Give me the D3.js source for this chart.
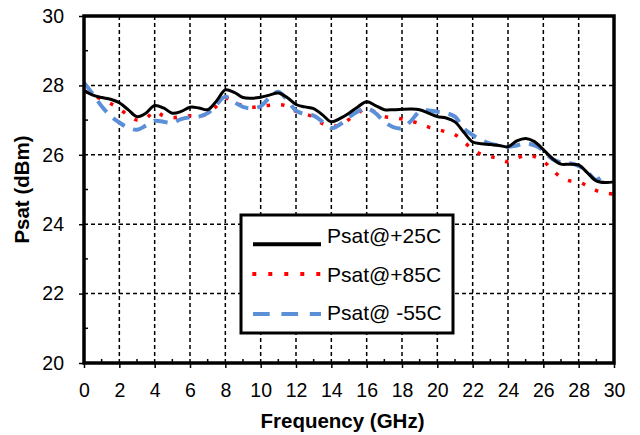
<!DOCTYPE html>
<html>
<head>
<meta charset="utf-8">
<script src="https://cdn.jsdelivr.net/npm/d3@7"></script>
<style>
  body { margin: 0; background: #fff; }
  text { font-family: "Liberation Sans", Arial, sans-serif; }
</style>
</head>
<body>
<script>
// chart data
const freq = d3.range(0, 30.01, 0.5);
const psat25 = [27.85, 27.72, 27.65, 27.6, 27.5, 27.3, 27.1, 27.2, 27.42, 27.35,
  27.2, 27.25, 27.37, 27.35, 27.3, 27.55, 27.87, 27.8, 27.65, 27.63,
  27.66, 27.72, 27.78, 27.65, 27.45, 27.38, 27.33, 27.15, 26.95, 27.05,
  27.2, 27.38, 27.53, 27.42, 27.3, 27.3, 27.31, 27.32, 27.3, 27.2,
  27.1, 27.06, 26.95, 26.65, 26.37, 26.32, 26.3, 26.27, 26.23, 26.4,
  26.47, 26.38, 26.15, 25.9, 25.73, 25.73, 25.7, 25.48, 25.25, 25.2, 25.22];
const psat85 = [27.85, 27.72, 27.6, 27.48, 27.33, 27.13, 27.0, 27.05, 27.25, 27.12,
  27.07, 27.1, 27.12, 27.1, 27.2, 27.4, 27.63, 27.5, 27.42, 27.37,
  27.4, 27.43, 27.45, 27.4, 27.25, 27.18, 27.08, 26.9, 26.83, 26.86,
  27.02, 27.2, 27.35, 27.22, 27.1, 27.07, 27.03, 26.97, 26.9, 26.8,
  26.73, 26.66, 26.58, 26.38, 26.15, 26.01, 25.95, 25.88, 25.8, 25.9,
  25.99, 25.95, 25.82, 25.57, 25.35, 25.25, 25.22, 25.1, 24.97, 24.9, 24.87];
const psatM55 = [28.08, 27.75, 27.4, 27.12, 26.93, 26.78, 26.72, 26.84, 26.98, 26.95,
  26.92, 27.03, 27.08, 27.1, 27.2, 27.45, 27.67, 27.52, 27.38, 27.34,
  27.4, 27.65, 27.82, 27.58, 27.27, 27.17, 27.13, 26.95, 26.77, 26.88,
  27.08, 27.25, 27.34, 27.2, 26.95, 26.8, 26.77, 26.97, 27.25, 27.28,
  27.24, 27.2, 27.1, 26.76, 26.57, 26.42, 26.32, 26.27, 26.23, 26.27,
  26.33, 26.27, 26.12, 25.88, 25.78, 25.76, 25.68, 25.5, 25.28, 25.45, null];
const xTicks = d3.range(0, 31, 2);
const yTicks = d3.range(20, 31, 2);
const seriesNames = ['Psat@+25C', 'Psat@+85C', 'Psat@ -55C'];

const w = 640;
const h = 435;
const m = { left: 84, right: 26, top: 16, bottom: 72 };

const svg = d3.select('body').append('svg').attr('width', w).attr('height', h);

const x = d3.scaleLinear().domain([0, 30]).range([m.left, w - m.right]);
const y = d3.scaleLinear().domain([20, 30]).range([h - m.bottom, m.top]);

// dashed grid
svg.append('g')
  .selectAll('line')
  .data(xTicks.filter((d) => d > 0 && d < 30))
  .enter()
  .append('line')
  .attr('x1', (d) => x(d)).attr('x2', (d) => x(d))
  .attr('y1', y(20)).attr('y2', y(30))
  .attr('stroke', '#000').attr('stroke-width', 1.5).attr('stroke-dasharray', '4,3');

svg.append('g')
  .selectAll('line')
  .data(yTicks.filter((d) => d > 20 && d < 30))
  .enter()
  .append('line')
  .attr('x1', x(0)).attr('x2', x(30))
  .attr('y1', (d) => y(d)).attr('y2', (d) => y(d))
  .attr('stroke', '#000').attr('stroke-width', 1.5).attr('stroke-dasharray', '4,3');

// curves
const line = (vals) => d3.line()
  .defined((d, i) => vals[i] != null)
  .x((d) => x(d))
  .y((d, i) => y(vals[i]))
  .curve(d3.curveCatmullRom)(freq);

svg.append('path').attr('d', line(psat85))
  .attr('fill', 'none').attr('stroke', '#ff0000').attr('stroke-width', 3.5)
  .attr('stroke-dasharray', '3.5,11');
svg.append('path').attr('d', line(psatM55))
  .attr('fill', 'none').attr('stroke', '#5b8fd8').attr('stroke-width', 4)
  .attr('stroke-dasharray', '14,9');
svg.append('path').attr('d', line(psat25))
  .attr('fill', 'none').attr('stroke', '#000').attr('stroke-width', 3);

// axes
const xAxis = svg.append('g')
  .attr('transform', `translate(0,${y(20)})`)
  .call(d3.axisBottom(x).tickValues(xTicks).tickSize(5).tickPadding(15));
const yAxis = svg.append('g')
  .attr('transform', `translate(${x(0)},0)`)
  .call(d3.axisLeft(y).tickValues(yTicks).tickSize(5).tickPadding(15));

[xAxis, yAxis].forEach((g) => {
  g.select('.domain').remove();
  g.selectAll('line').attr('stroke', '#000').attr('stroke-width', 1.5);
  g.selectAll('text').attr('font-size', 19.5).attr('fill', '#000')
    .style('font-family', '"Liberation Sans", Arial, sans-serif');
});

// minor ticks pointing inward
svg.append('g')
  .selectAll('line')
  .data(d3.range(1, 30, 2))
  .enter()
  .append('line')
  .attr('x1', (d) => x(d)).attr('x2', (d) => x(d))
  .attr('y1', y(20)).attr('y2', y(20) - 4)
  .attr('stroke', '#000').attr('stroke-width', 1.5);
svg.append('g')
  .selectAll('line')
  .data(d3.range(21, 30, 2))
  .enter()
  .append('line')
  .attr('x1', x(0)).attr('x2', x(0) + 4)
  .attr('y1', (d) => y(d)).attr('y2', (d) => y(d))
  .attr('stroke', '#000').attr('stroke-width', 1.5);

// frame
svg.append('rect')
  .attr('x', x(0)).attr('y', y(30))
  .attr('width', x(30) - x(0)).attr('height', y(20) - y(30))
  .attr('fill', 'none').attr('stroke', '#000').attr('stroke-width', 3.5);

// axis titles
svg.append('text')
  .attr('x', 342.5).attr('y', 428)
  .attr('text-anchor', 'middle').attr('font-size', 20.5).attr('font-weight', 'bold')
  .text('Frequency (GHz)');
svg.append('text')
  .attr('transform', `translate(29,${(y(20) + y(30)) / 2}) rotate(-90)`)
  .attr('text-anchor', 'middle').attr('font-size', 20.5).attr('font-weight', 'bold')
  .text('Psat (dBm)');

// legend
const legend = svg.append('g');
legend.append('rect')
  .attr('x', 241).attr('y', 215).attr('width', 212).attr('height', 118)
  .attr('fill', '#fff').attr('stroke', '#000').attr('stroke-width', 3);

const legStyles = [
  { stroke: '#000', width: 4, dash: null, y: 244.3 },
  { stroke: '#ff0000', width: 4, dash: '4,12', y: 274 },
  { stroke: '#5b8fd8', width: 4, dash: '16.7,11.7', y: 314 },
];
const legTextY = [243.3, 281.7, 320];

legend.selectAll('line')
  .data(seriesNames)
  .enter()
  .append('line')
  .attr('x1', (d, i) => (i === 1 ? 252.3 : 253)).attr('x2', 321)
  .attr('y1', (d, i) => legStyles[i].y).attr('y2', (d, i) => legStyles[i].y)
  .attr('stroke', (d, i) => legStyles[i].stroke)
  .attr('stroke-width', (d, i) => legStyles[i].width)
  .attr('stroke-dasharray', (d, i) => legStyles[i].dash);

legend.selectAll('text')
  .data(seriesNames)
  .enter()
  .append('text')
  .attr('x', 327)
  .attr('y', (d, i) => legTextY[i])
  .attr('font-size', 21)
  .text((d) => d);
</script>
</body>
</html>
